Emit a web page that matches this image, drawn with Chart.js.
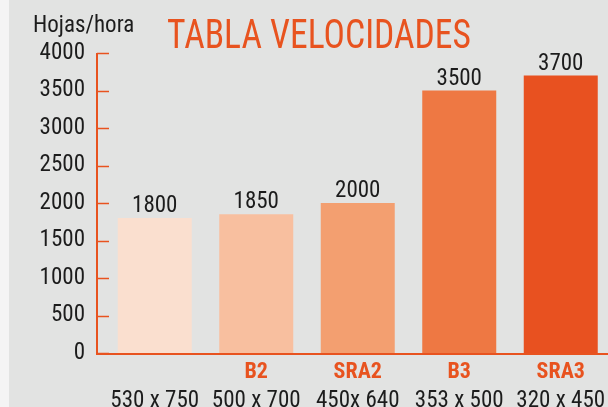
<!DOCTYPE html>
<html>
<head>
<meta charset="utf-8">
<script src="https://cdn.jsdelivr.net/npm/chart.js@4"></script>
<style>
  html, body { margin: 0; padding: 0; overflow: hidden; background: #e2e3e2; width: 608px; height: 407px; }
  #strip { position: absolute; left: 0; top: 0; width: 9px; height: 407px; background: #f4f4f4; }
  #wrap { position: absolute; left: 0; top: 0; width: 644px; height: 420px; }
</style>
</head>
<body>
<div id="wrap"><canvas id="c" width="644" height="420"></canvas></div>
<div id="strip"></div>
<script>
const TITLE = "TABLA VELOCIDADES";
const Y_LABEL = "Hojas/hora";
const formats = ["", "B2", "SRA2", "B3", "SRA3"];
const sizes = ["530 x 750", "500 x 700", "450x 640", "353 x 500", "320 x 450"];
const speeds = [1800, 1850, 2000, 3500, 3700];
const barColors = ["#fadfcf", "#f8bf9f", "#f39f70", "#ee7843", "#e85120"];
const yTicks = [0, 500, 1000, 1500, 2000, 2500, 3000, 3500, 4000];

const ORANGE = "#e8531f";
const DARK = "#1c1c1c";
const COND = "'Roboto Condensed', 'Liberation Sans', Arial, sans-serif";

const decor = {
  id: "decor",
  afterDatasetsDraw(chart) {
    const ctx = chart.ctx;
    const y = chart.scales.y;
    const area = chart.chartArea;
    const axisX = area.left - 7;
    ctx.save();
    // tick marks
    ctx.strokeStyle = ORANGE;
    ctx.lineWidth = 1.5;
    yTicks.forEach(v => {
      const py = Math.round(y.getPixelForValue(v)) + 0.5;
      ctx.beginPath();
      ctx.moveTo(axisX, py);
      ctx.lineTo(axisX + 12, py);
      ctx.stroke();
    });
    // axes
    ctx.lineWidth = 2;
    ctx.beginPath();
    ctx.moveTo(axisX, y.getPixelForValue(4000));
    ctx.lineTo(axisX, y.getPixelForValue(0) + 1);
    ctx.lineTo(chart.width, y.getPixelForValue(0) + 1);
    ctx.stroke();
    // value labels
    ctx.fillStyle = DARK;
    ctx.font = "23px " + COND;
    ctx.textAlign = "center";
    ctx.textBaseline = "alphabetic";
    chart.getDatasetMeta(0).data.forEach((bar, i) => {
      ctx.fillText(String(speeds[i]), bar.x, bar.y - 6);
    });
    // title
    ctx.fillStyle = ORANGE;
    ctx.font = "40px " + COND;
    ctx.textAlign = "left";
    ctx.save();
    ctx.translate(167, 47.5);
    const w = ctx.measureText(TITLE).width;
    ctx.scale(304 / w, 1);
    ctx.fillText(TITLE, 0, 0);
    ctx.restore();
    // y label
    ctx.fillStyle = DARK;
    ctx.font = "23px " + COND;
    ctx.fillText(Y_LABEL, 33, 32);
    ctx.restore();
  }
};

new Chart(document.getElementById("c"), {
  type: "bar",
  data: {
    labels: formats,
    datasets: [{
      data: speeds,
      backgroundColor: barColors,
      borderWidth: 0,
      categoryPercentage: 1,
      barPercentage: 0.729
    }]
  },
  options: {
    responsive: false,
    animation: false,
    events: [],
    layout: { padding: { left: 0, right: 32.5, top: 53, bottom: 0 } },
    plugins: { legend: { display: false }, tooltip: { enabled: false }, title: { display: false } },
    scales: {
      x: {
        type: "category",
        position: "bottom",
        grid: { display: false, drawTicks: false },
        border: { display: false },
        ticks: { color: ORANGE, font: { family: COND, size: 22, weight: "bold", lineHeight: 1.2 }, padding: 6, maxRotation: 0, autoSkip: false },
        afterFit(s) { s.height = 30; }
      },
      x2: {
        type: "category",
        position: "bottom",
        labels: sizes,
        grid: { display: false, drawTicks: false },
        border: { display: false },
        ticks: { color: DARK, font: { family: COND, size: 23, lineHeight: 1.2 }, padding: 4.5, maxRotation: 0, autoSkip: false },
        afterFit(s) { s.height = 37; }
      },
      y: {
        min: 0,
        max: 4000,
        grid: { display: false, drawTicks: false },
        border: { display: false },
        ticks: { stepSize: 500, color: DARK, font: { family: COND, size: 23 }, padding: 19, callback: v => String(v) },
        afterFit(s) { s.width = 104; }
      }
    }
  },
  plugins: [decor]
});
</script>
</body>
</html>
